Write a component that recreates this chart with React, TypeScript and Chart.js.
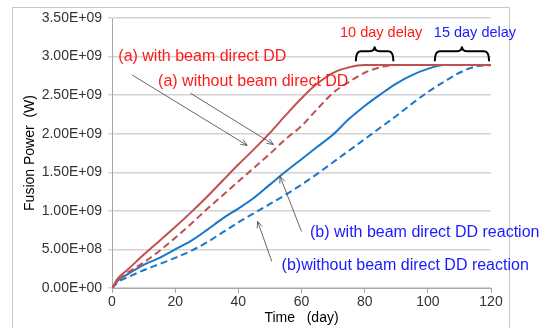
import React, { useEffect, useRef } from "react";
import { Chart, registerables } from "chart.js";

Chart.register(...registerables);

// Days (x axis)
const days = [0, 2, 5, 10, 15, 20, 25, 30, 35, 40, 45, 50, 55, 60, 65, 70, 75, 80, 85, 90, 95, 100, 105, 110, 115, 120];

// Fusion power in units of 1E+09 W
const aWithBeam = [0, 0.13, 0.24, 0.43, 0.61, 0.79, 0.98, 1.18, 1.39, 1.6, 1.8, 2.01, 2.24, 2.46, 2.65, 2.79, 2.86, 2.89, 2.89, 2.89, 2.89, 2.89, 2.89, 2.89, 2.89, 2.89];
const aWithoutBeam = [0, 0.1, 0.2, 0.33, 0.48, 0.65, 0.83, 1.02, 1.2, 1.38, 1.56, 1.74, 1.93, 2.1, 2.32, 2.53, 2.67, 2.79, 2.86, 2.89, 2.89, 2.89, 2.89, 2.89, 2.89, 2.89];
const bWithBeam = [0, 0.1, 0.18, 0.3, 0.39, 0.5, 0.61, 0.75, 0.9, 1.03, 1.17, 1.34, 1.51, 1.67, 1.83, 1.99, 2.19, 2.36, 2.51, 2.65, 2.76, 2.84, 2.89, 2.89, 2.89, 2.89];
const bWithoutBeam = [0, 0.08, 0.14, 0.23, 0.31, 0.39, 0.48, 0.59, 0.72, 0.85, 0.97, 1.09, 1.21, 1.34, 1.48, 1.63, 1.78, 1.93, 2.08, 2.23, 2.39, 2.54, 2.67, 2.79, 2.87, 2.89];

const xTicks = [0, 20, 40, 60, 80, 100, 120];
const yMax = 3.5e9;
const yStep = 5e8;

const RED = "#c0504d";
const BLUE = "#1a76c9";
const TEXT_RED = "#ff1a1a";
const TEXT_BLUE = "#1a1aff";

const toPts = (vals: number[]) => vals.map((v, i) => ({ x: days[i], y: v * 1e9 }));

function fmtSci(v: number): string {
  if (v === 0) return "0.00E+00";
  const e = Math.floor(Math.log10(v) + 1e-9);
  const m = v / Math.pow(10, e);
  return m.toFixed(2) + "E+" + String(e).padStart(2, "0");
}

const annotPlugin = {
  id: "annot",
  beforeDraw(chart: any) {
    const ctx = chart.ctx;
    ctx.save();
    ctx.fillStyle = "#ffffff";
    ctx.fillRect(0, 0, chart.width, chart.height);
    ctx.strokeStyle = "#c8c8c8";
    ctx.lineWidth = 1;
    ctx.strokeRect(12.5, 7.5, 497, 340);
    ctx.restore();
  },
  afterDraw(chart: any) {
    const ctx = chart.ctx;
    const xs = chart.scales.x;
    const ys = chart.scales.y;
    const px = (d: number) => xs.getPixelForValue(d);
    const py = (v: number) => ys.getPixelForValue(v * 1e9);
    ctx.save();
    const fontBig = '16px "Liberation Sans", Arial, sans-serif';
    const fontSmall = '14.5px "Liberation Sans", Arial, sans-serif';
    ctx.textBaseline = "middle";
    ctx.textAlign = "left";
    const text = (s: string, d: number, v: number, c: string, f: string) => {
      ctx.font = f;
      ctx.fillStyle = c;
      ctx.fillText(s, px(d), py(v));
    };
    text("(a) with beam direct DD", 2.0, 3.0, TEXT_RED, fontBig);
    text("(a) without beam direct DD", 14.6, 2.67, TEXT_RED, fontBig);
    text("10 day delay", 72.2, 3.31, TEXT_RED, fontSmall);
    text("15 day delay", 101.9, 3.3, TEXT_BLUE, fontSmall);
    text("(b) with beam direct DD reaction", 62.7, 0.712, TEXT_BLUE, fontBig);
    text("(b)without beam direct DD reaction", 53.7, 0.293, TEXT_BLUE, fontBig);

    const arrow = (d1: number, v1: number, d2: number, v2: number) => {
      const x1 = px(d1), y1 = py(v1), x2 = px(d2), y2 = py(v2);
      ctx.strokeStyle = "#404040";
      ctx.lineWidth = 0.8;
      ctx.beginPath();
      ctx.moveTo(x1, y1);
      ctx.lineTo(x2, y2);
      const a = Math.atan2(y2 - y1, x2 - x1);
      const L = 7, w = 0.4;
      ctx.moveTo(x2 - L * Math.cos(a - w), y2 - L * Math.sin(a - w));
      ctx.lineTo(x2, y2);
      ctx.lineTo(x2 - L * Math.cos(a + w), y2 - L * Math.sin(a + w));
      ctx.stroke();
    };
    arrow(6.3, 2.763, 42.8, 1.849);
    arrow(24.8, 2.526, 51.1, 1.861);
    arrow(60.0, 0.733, 53.2, 1.446);
    arrow(50.6, 0.345, 46.1, 0.863);

    const brace = (d1: number, d2: number) => {
      const x1 = px(d1), x2 = px(d2), xm = (x1 + x2) / 2;
      const yEnd = py(2.94), yTip = py(3.13), yMid = py(3.07);
      const r = 5;
      ctx.strokeStyle = "#000000";
      ctx.lineWidth = 2;
      ctx.beginPath();
      ctx.moveTo(x1, yEnd);
      ctx.quadraticCurveTo(x1, yMid, x1 + r, yMid);
      ctx.lineTo(xm - r, yMid);
      ctx.quadraticCurveTo(xm, yMid, xm, yTip);
      ctx.quadraticCurveTo(xm, yMid, xm + r, yMid);
      ctx.lineTo(x2 - r, yMid);
      ctx.quadraticCurveTo(x2, yMid, x2, yEnd);
      ctx.stroke();
    };
    brace(77.2, 89.1);
    brace(102.2, 119.4);
    ctx.restore();
  },
};

export default function App() {
  const ref = useRef<HTMLCanvasElement | null>(null);
  useEffect(() => {
    if (!ref.current) return;
    const tickFont = { family: '"Liberation Sans", Arial, sans-serif', size: 14 };
    const chart = new Chart(ref.current, {
      type: "line",
      data: {
        datasets: [
          { label: "(a) with", data: toPts(aWithBeam), borderColor: RED, borderWidth: 2, pointRadius: 0, cubicInterpolationMode: "monotone" },
          { label: "(a) without", data: toPts(aWithoutBeam), borderColor: RED, borderWidth: 2, borderDash: [7, 4], pointRadius: 0, cubicInterpolationMode: "monotone" },
          { label: "(b) with", data: toPts(bWithBeam), borderColor: BLUE, borderWidth: 2, pointRadius: 0, cubicInterpolationMode: "monotone" },
          { label: "(b) without", data: toPts(bWithoutBeam), borderColor: BLUE, borderWidth: 2, borderDash: [7, 4], pointRadius: 0, cubicInterpolationMode: "monotone" },
        ],
      },
      options: {
        responsive: false,
        animation: false,
        events: [],
        layout: { padding: { left: 0, right: 54, top: 18, bottom: 0 } },
        plugins: { legend: { display: false }, tooltip: { enabled: false } },
        scales: {
          x: {
            type: "linear",
            min: 0,
            max: 120,
            afterFit: (s: any) => { s.height = 40; },
            afterBuildTicks: (s: any) => { s.ticks = xTicks.map((v) => ({ value: v })); },
            grid: { drawOnChartArea: false, drawTicks: true, tickLength: 5, color: "#a6a6a6" },
            border: { display: true, color: "#a6a6a6" },
            ticks: { color: "#333333", font: tickFont, padding: 1, maxRotation: 0 },
            title: { display: true, text: "Time   (day)", color: "#000000", font: tickFont, padding: { top: 0, bottom: 1 } },
          },
          y: {
            min: 0,
            max: yMax,
            afterFit: (s: any) => { s.width = 112; },
            grid: { color: "#d4d4d4", lineWidth: 1.5, tickLength: 4 },
            border: { display: true, color: "#a6a6a6" },
            ticks: { stepSize: yStep, color: "#333333", font: tickFont, padding: 6, callback: (v: any) => fmtSci(Number(v)) },
            title: { display: true, text: "Fusion Power  (W)", color: "#000000", font: tickFont, padding: { top: 22, bottom: 0 } },
          },
        },
      },
      plugins: [annotPlugin],
    } as any);
    return () => chart.destroy();
  }, []);
  return (
    <div style={{ position: "absolute", left: 0, top: 0, width: 545, height: 328, background: "#fff" }}>
      <canvas ref={ref} width={545} height={328} style={{ display: "block" }} />
    </div>
  );
}
